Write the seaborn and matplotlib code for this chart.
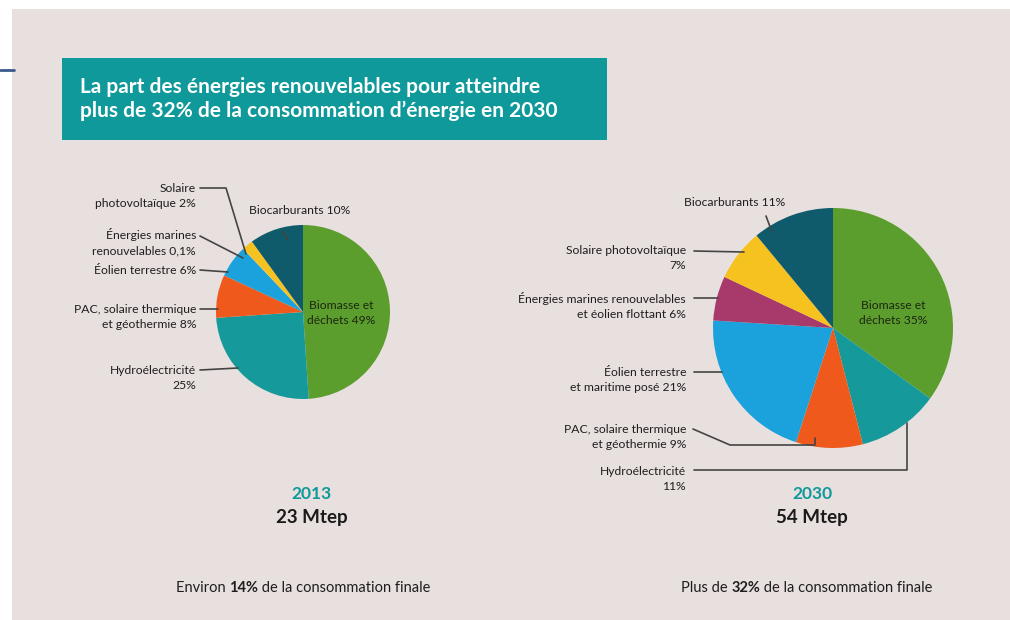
import matplotlib
matplotlib.use("Agg")
import matplotlib.pyplot as plt
import seaborn as sns

sns.set_theme(style="white")
plt.rcParams['font.family'] = ['Lato', 'DejaVu Sans']

# données
categories = ["Biomasse et déchets", "Hydroélectricité", "PAC, solaire thermique et géothermie",
              "Éolien", "Énergies marines", "Solaire photovoltaïque", "Biocarburants"]
parts_2013 = [49, 25, 8, 6, 0.1, 2, 10]
parts_2030 = [35, 11, 9, 21, 6, 7, 11]
couleurs = ["#5b9e2e", "#16999a", "#ef5a1c", "#1ba1db", "#a83a6b", "#f6c21f", "#0f5b6c"]
couleurs_2013 = ["#5b9e2e", "#16999a", "#ef5a1c", "#1ba1db", "#f6c21f", "#f6c21f", "#0f5b6c"]

titre = "La part des énergies renouvelables pour atteindre\nplus de 32% de la consommation d’énergie en 2030"
annees = ["2013", "2030"]
totaux = ["23 Mtep", "54 Mtep"]

W, H = 1010, 620
fond = "#e8e0de"
teal = "#10999a"

fig = plt.figure(figsize=(W / 100, H / 100), dpi=100, facecolor=fond)

# fond
bg = fig.add_axes([0, 0, 1, 1], zorder=0)
bg.set_xlim(0, W)
bg.set_ylim(H, 0)
bg.axis("off")
bg.add_patch(plt.Rectangle((0, 0), W, 9, color="white", lw=0))
bg.add_patch(plt.Rectangle((0, 0), 12, H, color="white", lw=0))
bg.plot([0, 14], [70, 70], color="#3a5a8c", lw=2)
bg.add_patch(plt.Rectangle((62, 58), 545, 82, color=teal, lw=0))


def camembert(cx, cy, r, vals, cols):
    ax = fig.add_axes([(cx - r) / W, (H - cy - r) / H, 2 * r / W, 2 * r / H], zorder=2)
    ax.pie(vals, colors=cols, startangle=90, counterclock=False,
           wedgeprops=dict(linewidth=0))
    ax.set_xlim(-1, 1)
    ax.set_ylim(-1, 1)
    ax.set_aspect("equal")
    ax.axis("off")
    return ax


camembert(303, 312, 87, parts_2013, couleurs_2013)
camembert(833, 328, 120, parts_2030, couleurs)

# calque en pixels pour textes et traits
ov = fig.add_axes([0, 0, 1, 1], zorder=3)
ov.set_xlim(0, W)
ov.set_ylim(H, 0)
ov.axis("off")
ov.patch.set_alpha(0)

ov.text(80, 99, titre, color="white", fontsize=15, fontweight="bold",
        va="center", ha="left", linespacing=1.25)

fs = 8.7
lc = "#444444"


def lab(x, y, s, ha="right"):
    ov.text(x, y, s, ha=ha, va="center", fontsize=fs, color="#1e1e1e", linespacing=1.45)


def trait(xs, ys):
    ov.plot(xs, ys, color=lc, lw=1.2)


# 2013
lab(196, 196, "Solaire\nphotovoltaïque 2%")
trait([200, 226, 246], [188, 188, 254])
lab(300, 211, "Biocarburants 10%", ha="center")
trait([282, 288], [231, 240])
lab(196, 242, "Énergies marines\nrenouvelables 0,1%")
trait([200, 243], [236, 258])
lab(196, 270, "Éolien terrestre 6%")
trait([200, 228], [270, 272])
lab(196, 317, "PAC, solaire thermique\net géothermie 8%")
trait([200, 218], [309, 309])
lab(196, 378, "Hydroélectricité\n25%")
trait([200, 238], [370, 368])
ov.text(341, 313, "Biomasse et\ndéchets 49%", ha="center", va="center", fontsize=fs,
        color="#1c2610", linespacing=1.45)

# 2030
lab(735, 203, "Biocarburants 11%", ha="center")
trait([766, 772], [216, 232])
lab(686, 258, "Solaire photovoltaïque\n7%")
trait([694, 744], [251, 252])
lab(686, 306, "Énergies marines renouvelables\net éolien flottant 6%")
trait([694, 718], [298, 298])
lab(686, 380, "Éolien terrestre\net maritime posé 21%")
trait([694, 722], [372, 372])
lab(686, 437, "PAC, solaire thermique\net géothermie 9%")
trait([693, 730, 815, 815], [429, 445, 445, 438])
lab(686, 479, "Hydroélectricité\n11%")
trait([694, 907, 907], [470, 470, 423])
ov.text(893, 313, "Biomasse et\ndéchets 35%", ha="center", va="center", fontsize=fs,
        color="#1c2610", linespacing=1.45)

# années et totaux
for x, a, t in zip([312, 812], annees, totaux):
    ov.text(x, 494, a, ha="center", va="center", fontsize=12.5, fontweight="bold", color=teal)
    ov.text(x, 517, t, ha="center", va="center", fontsize=13.5, fontweight="bold", color="#1a1a1a")


def ligne_mixte(x, y, morceaux):
    fig.canvas.draw()
    rend = fig.canvas.get_renderer()
    for s, w in morceaux:
        t = ov.text(x, y, s, ha="left", va="center", fontsize=10.5, fontweight=w, color="#1e1e1e")
        bb = t.get_window_extent(renderer=rend)
        x += bb.width


ligne_mixte(176, 588, [("Environ ", "normal"), ("14%", "bold"),
                       (" de la consommation finale", "normal")])
ligne_mixte(681, 588, [("Plus de ", "normal"), ("32%", "bold"),
                       (" de la consommation finale", "normal")])

fig.savefig("out.png", dpi=100, facecolor=fond)
